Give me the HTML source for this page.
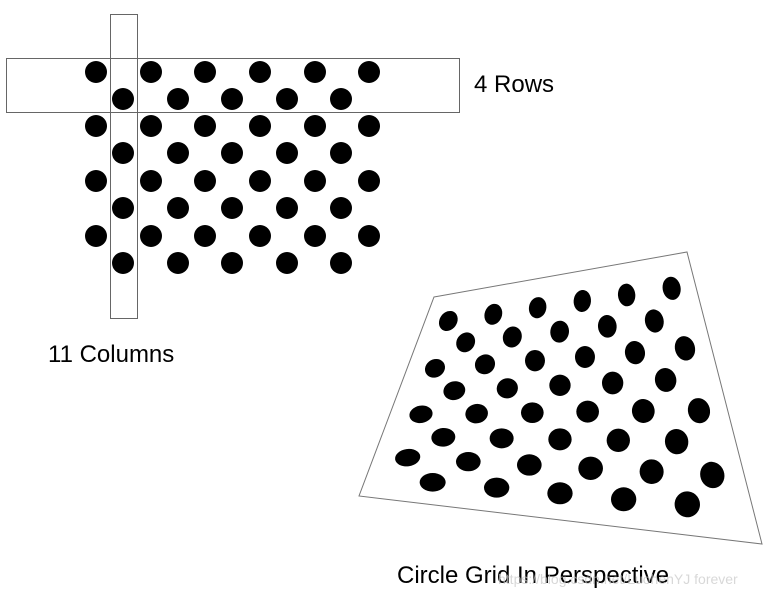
<!DOCTYPE html>
<html><head><meta charset="utf-8"><style>
html,body{margin:0;padding:0;background:#fff;}
svg{display:block;}
text{font-family:"Liberation Sans",Arial,sans-serif;}
</style></head><body>
<svg width="776" height="596" viewBox="0 0 776 596" xmlns="http://www.w3.org/2000/svg">
<rect width="776" height="596" fill="#fff"/>
<g fill="#000">
<circle cx="96" cy="72" r="11"/><circle cx="151" cy="72" r="11"/><circle cx="205" cy="72" r="11"/><circle cx="260" cy="72" r="11"/><circle cx="315" cy="72" r="11"/><circle cx="369" cy="72" r="11"/>
<circle cx="96" cy="126" r="11"/><circle cx="151" cy="126" r="11"/><circle cx="205" cy="126" r="11"/><circle cx="260" cy="126" r="11"/><circle cx="315" cy="126" r="11"/><circle cx="369" cy="126" r="11"/>
<circle cx="96" cy="181" r="11"/><circle cx="151" cy="181" r="11"/><circle cx="205" cy="181" r="11"/><circle cx="260" cy="181" r="11"/><circle cx="315" cy="181" r="11"/><circle cx="369" cy="181" r="11"/>
<circle cx="96" cy="236" r="11"/><circle cx="151" cy="236" r="11"/><circle cx="205" cy="236" r="11"/><circle cx="260" cy="236" r="11"/><circle cx="315" cy="236" r="11"/><circle cx="369" cy="236" r="11"/>
<circle cx="123" cy="99" r="11"/><circle cx="178" cy="99" r="11"/><circle cx="232" cy="99" r="11"/><circle cx="287" cy="99" r="11"/><circle cx="341" cy="99" r="11"/>
<circle cx="123" cy="153" r="11"/><circle cx="178" cy="153" r="11"/><circle cx="232" cy="153" r="11"/><circle cx="287" cy="153" r="11"/><circle cx="341" cy="153" r="11"/>
<circle cx="123" cy="208" r="11"/><circle cx="178" cy="208" r="11"/><circle cx="232" cy="208" r="11"/><circle cx="287" cy="208" r="11"/><circle cx="341" cy="208" r="11"/>
<circle cx="123" cy="263" r="11"/><circle cx="178" cy="263" r="11"/><circle cx="232" cy="263" r="11"/><circle cx="287" cy="263" r="11"/><circle cx="341" cy="263" r="11"/>
</g>
<rect x="6.5" y="58.5" width="453" height="54" fill="none" stroke="#666" stroke-width="1"/>
<rect x="110.5" y="14.5" width="27" height="304" fill="none" stroke="#666" stroke-width="1"/>
<text x="474" y="92" font-size="24" fill="#000">4 Rows</text>
<text x="48" y="362" font-size="24" fill="#000">11 Columns</text>
<polygon points="434,297 687,252 762,544 359,496" fill="none" stroke="#777" stroke-width="1"/>
<g transform="translate(355,245) scale(0.3333)" fill="#000">
<ellipse cx="280" cy="228" rx="26" ry="32" transform="rotate(35 280 228)"/>
<ellipse cx="415" cy="208" rx="26" ry="32" transform="rotate(20 415 208)"/>
<ellipse cx="548" cy="188" rx="26" ry="32" transform="rotate(12 548 188)"/>
<ellipse cx="682" cy="168" rx="26" ry="33" transform="rotate(5 682 168)"/>
<ellipse cx="815" cy="150" rx="26" ry="34" transform="rotate(-5 815 150)"/>
<ellipse cx="950" cy="130" rx="27" ry="35" transform="rotate(-10 950 130)"/>
<ellipse cx="332" cy="292" rx="27" ry="31" transform="rotate(35 332 292)"/>
<ellipse cx="472" cy="276" rx="28" ry="32" transform="rotate(20 472 276)"/>
<ellipse cx="614" cy="260" rx="28" ry="33" transform="rotate(8 614 260)"/>
<ellipse cx="757" cy="244" rx="28" ry="34" transform="rotate(-5 757 244)"/>
<ellipse cx="898" cy="228" rx="28" ry="35" transform="rotate(-12 898 228)"/>
<ellipse cx="240" cy="370" rx="31" ry="27" transform="rotate(-30 240 370)"/>
<ellipse cx="390" cy="358" rx="31" ry="29" transform="rotate(-40 390 358)"/>
<ellipse cx="540" cy="347" rx="30" ry="32"/>
<ellipse cx="690" cy="336" rx="30" ry="33"/>
<ellipse cx="840" cy="323" rx="30" ry="35" transform="rotate(-10 840 323)"/>
<ellipse cx="990" cy="310" rx="30" ry="37" transform="rotate(-15 990 310)"/>
<ellipse cx="298" cy="437" rx="33" ry="28" transform="rotate(-15 298 437)"/>
<ellipse cx="457" cy="430" rx="32" ry="30" transform="rotate(-20 457 430)"/>
<ellipse cx="615" cy="421" rx="32" ry="32"/>
<ellipse cx="773" cy="414" rx="32" ry="34"/>
<ellipse cx="932" cy="405" rx="32" ry="36" transform="rotate(-12 932 405)"/>
<ellipse cx="198" cy="508" rx="35" ry="26" transform="rotate(-10 198 508)"/>
<ellipse cx="365" cy="506" rx="34" ry="29" transform="rotate(-10 365 506)"/>
<ellipse cx="532" cy="503" rx="34" ry="31"/>
<ellipse cx="698" cy="500" rx="34" ry="33"/>
<ellipse cx="865" cy="498" rx="34" ry="36" transform="rotate(-10 865 498)"/>
<ellipse cx="1032" cy="497" rx="33" ry="38" transform="rotate(-15 1032 497)"/>
<ellipse cx="265" cy="577" rx="36" ry="28" transform="rotate(-5 265 577)"/>
<ellipse cx="440" cy="580" rx="36" ry="30"/>
<ellipse cx="615" cy="583" rx="35" ry="33"/>
<ellipse cx="790" cy="586" rx="35" ry="35"/>
<ellipse cx="965" cy="590" rx="35" ry="38" transform="rotate(-12 965 590)"/>
<ellipse cx="158" cy="638" rx="38" ry="26" transform="rotate(-8 158 638)"/>
<ellipse cx="340" cy="650" rx="37" ry="29"/>
<ellipse cx="523" cy="660" rx="37" ry="32"/>
<ellipse cx="707" cy="670" rx="37" ry="35"/>
<ellipse cx="890" cy="680" rx="36" ry="37" transform="rotate(-10 890 680)"/>
<ellipse cx="1072" cy="690" rx="36" ry="40" transform="rotate(-20 1072 690)"/>
<ellipse cx="233" cy="712" rx="39" ry="28"/>
<ellipse cx="425" cy="728" rx="38" ry="30"/>
<ellipse cx="615" cy="745" rx="38" ry="33"/>
<ellipse cx="806" cy="763" rx="38" ry="36"/>
<ellipse cx="997" cy="778" rx="38" ry="39" transform="rotate(-15 997 778)"/>
</g>
<text x="397" y="583" font-size="24" fill="#000">Circle Grid In Perspective</text>
<text x="498" y="584" font-size="14" fill="#c8c8c8" opacity="0.7">https://blog.csdn.net/LuohenYJ forever</text>
</svg>
</body></html>
